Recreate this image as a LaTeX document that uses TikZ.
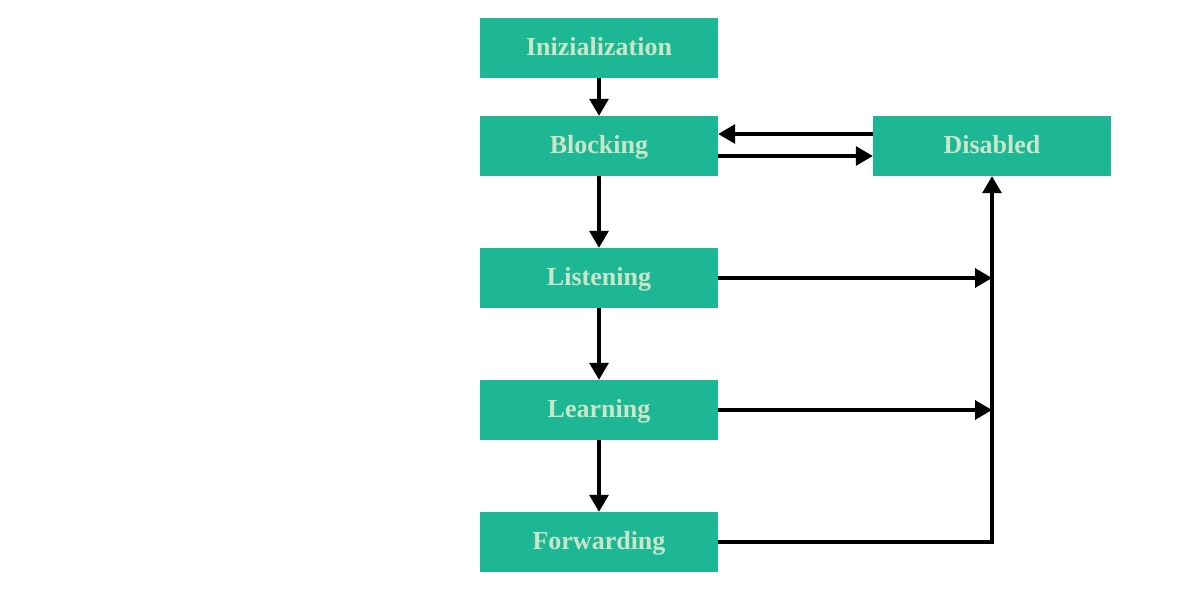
\documentclass[tikz,border=0pt]{standalone}
\usepackage{fontspec}
\setmainfont{Liberation Serif}
\usetikzlibrary{arrows.meta}
\definecolor{boxc}{HTML}{1EB795}
\definecolor{txtc}{HTML}{C8E6C9}
\tikzset{
  state/.style={fill=boxc, draw=none, minimum width=238pt, minimum height=60pt, inner sep=0pt,
    text height=17pt, text depth=3pt,
    text=txtc, font=\fontsize{26}{26}\selectfont\bfseries},
  conn/.style={line width=3.2pt, draw=black, -{Triangle[length=17pt,width=19pt]}}
}
\begin{document}
\begin{tikzpicture}[x=1pt,y=-1pt]
\useasboundingbox (0,0) rectangle (1200,600);
\node[state] (init) at (599,48) {Inizialization};
\node[state] (block) at (599,146) {Blocking};
\node[state] (listen) at (599,278) {Listening};
\node[state] (learn) at (599,410) {Learning};
\node[state] (fwd) at (599,542) {Forwarding};
\node[state] (dis) at (992,146) {Disabled};
\coordinate (m1) at (992,278);
\coordinate (m2) at (992,410);
\coordinate (c3) at (992,542);
\draw[conn] (init.south) -- (block.north);
\draw[conn] (block.south) -- (listen.north);
\draw[conn] (listen.south) -- (learn.north);
\draw[conn] (learn.south) -- (fwd.north);
\draw[conn] (dis.west |- 0,134) -- (block.east |- 0,134);
\draw[conn] (block.east |- 0,156) -- (dis.west |- 0,156);
\draw[conn] (listen.east) -- (m1);
\draw[conn] (learn.east) -- (m2);
\draw[conn] (fwd.east) -- (c3) -- (dis.south);
\end{tikzpicture}
\end{document}
